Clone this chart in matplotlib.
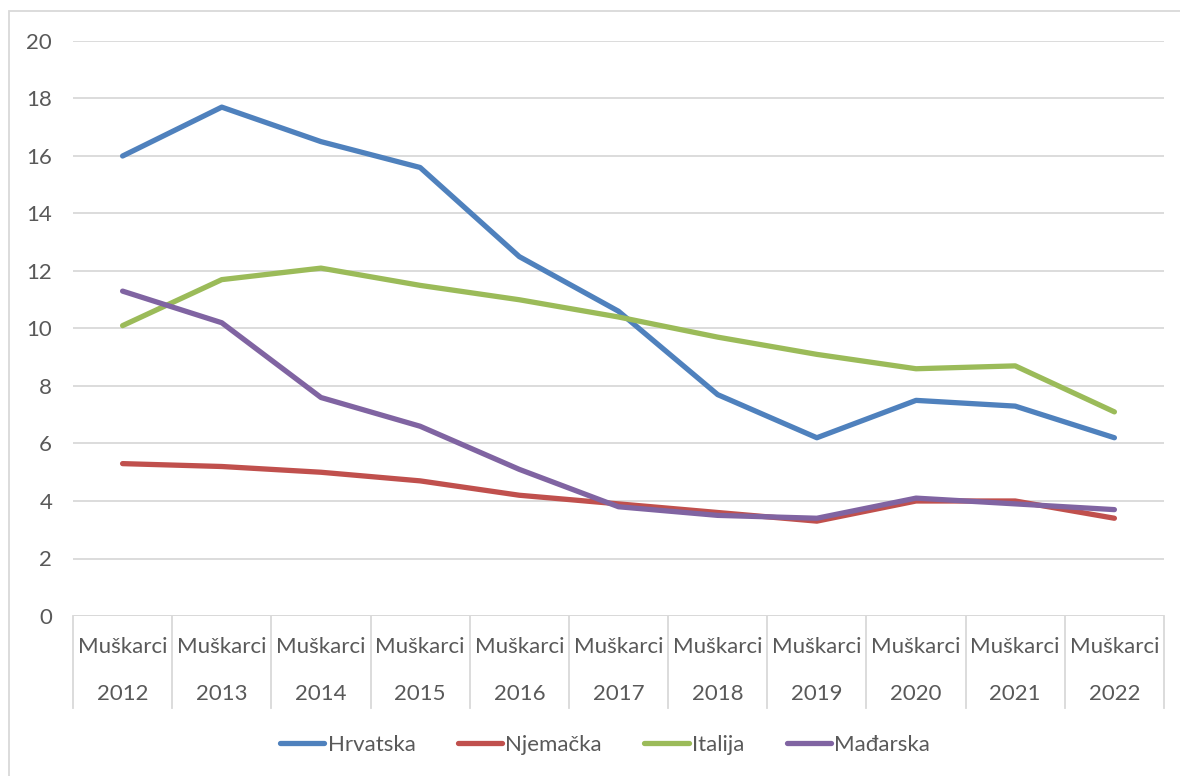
import matplotlib
matplotlib.use("Agg")
import matplotlib.pyplot as plt
import matplotlib.transforms as mtransforms
from matplotlib.patches import Rectangle

years = ["2012", "2013", "2014", "2015", "2016", "2017", "2018", "2019", "2020", "2021", "2022"]
group_label = "Muškarci"
hrvatska = [16.0, 17.7, 16.5, 15.6, 12.5, 10.6, 7.7, 6.2, 7.5, 7.3, 6.2]
njemacka = [5.3, 5.2, 5.0, 4.7, 4.2, 3.9, 3.6, 3.3, 4.0, 4.0, 3.4]
italija = [10.1, 11.7, 12.1, 11.5, 11.0, 10.4, 9.7, 9.1, 8.6, 8.7, 7.1]
madarska = [11.3, 10.2, 7.6, 6.6, 5.1, 3.8, 3.5, 3.4, 4.1, 3.9, 3.7]
series_names = ["Hrvatska", "Njemačka", "Italija", "Mađarska"]
colors = ["#4F81BD", "#C0504D", "#9BBB59", "#8064A2"]
yticks = [0, 2, 4, 6, 8, 10, 12, 14, 16, 18, 20]

plt.rcParams['font.family'] = ['Lato', 'DejaVu Sans']
text_color = "#595959"
grid_color = "#D9D9D9"
fs = 16

W, H = 1180, 776
fig = plt.figure(figsize=(W / 100, H / 100), dpi=100)
# outer chart border
fig.patches.append(Rectangle((9 / W, -0.1), 1.2, 1 - 11 / H + 0.1, transform=fig.transFigure,
                             fill=False, edgecolor=grid_color, linewidth=1.3))

left, right, top, bottom = 73, 1164, 41, 616
ax = fig.add_axes([left / W, 1 - bottom / H, (right - left) / W, (bottom - top) / H])

x = list(range(len(years)))
for vals, name, c in zip([hrvatska, njemacka, italija, madarska], series_names, colors):
    ax.plot(x, vals, color=c, linewidth=3.8, solid_capstyle='round', solid_joinstyle='round', label=name)

ax.set_xlim(-0.5, len(years) - 0.5)
ax.set_ylim(0, 20)
ax.set_yticks(yticks)
ax.set_yticklabels([str(v) for v in yticks])
ax.yaxis.grid(True, color=grid_color, linewidth=1.3)
ax.set_axisbelow(True)
for s in ax.spines.values():
    s.set_visible(False)
ax.tick_params(axis='y', length=0, pad=15, labelsize=fs, labelcolor=text_color)
ax.set_xticks([])

# bottom axis line + category table
trans = mtransforms.blended_transform_factory(ax.transData, ax.transAxes)
axh = bottom - top
ax.axhline(0, color=grid_color, linewidth=1.3, zorder=1)
for i in range(len(years) + 1):
    ax.plot([i - 0.5, i - 0.5], [0, -92 / axh], transform=trans, color=grid_color,
            linewidth=1.3, clip_on=False)
for i, yr in enumerate(years):
    ax.text(i, -31 / axh, group_label, transform=trans, ha='center', va='center',
            fontsize=fs, color=text_color)
    ax.text(i, -78 / axh, yr, transform=trans, ha='center', va='center',
            fontsize=fs, color=text_color)

leg = fig.legend(loc='center', bbox_to_anchor=(605 / W, 1 - 745 / H), ncol=4, frameon=False,
                 fontsize=fs, labelcolor=text_color, handlelength=2.0, handletextpad=0.15,
                 columnspacing=1.9)
for h in leg.get_lines():
    h.set_solid_capstyle('round')

fig.savefig("out.png", dpi=100)
